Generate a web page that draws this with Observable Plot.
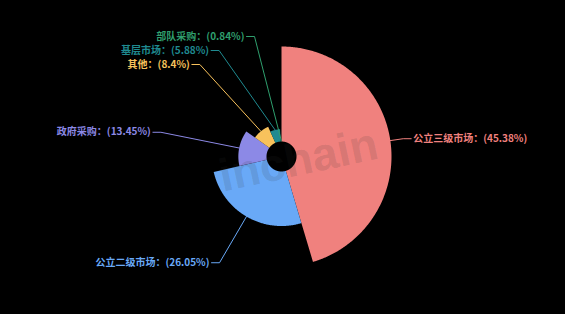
<!DOCTYPE html>
<html>
<head>
<meta charset="utf-8">
<script src="https://cdn.jsdelivr.net/npm/d3@7"></script>
<script src="https://cdn.jsdelivr.net/npm/@observablehq/plot@0.6"></script>
<style>
  html, body { margin: 0; padding: 0; background: #000; }
  #chart svg { display: block; }
</style>
</head>
<body>
<div id="chart"></div>
<script>
// Market share by channel (%)
const categories = ["公立三级市场", "公立二级市场", "政府采购", "其他", "基层市场", "部队采购"];
const shares = [45.38, 26.05, 13.45, 8.4, 5.88, 0.84];
const sliceColors = ["#f0817e", "#69a9f7", "#8c89e6", "#f8c25c", "#1f8a90", "#2f9f6e"];
const watermark = "inchain";

// Layout constants (pixels)
const W = 565, H = 314;
const cx = 281, cy = 156;          // centre of the rose
const innerR = 15, outerR = 110;   // hole and largest petal
const guideR = outerR + 13;        // where leader lines bend
const lineGap = 14;                // minimum vertical spacing of labels

// Nightingale rose: angle ∝ share, radius ∝ share
const total = d3.sum(shares);
const radius = d3.scaleLinear([0, d3.max(shares)], [innerR, outerR]);
let acc = 0;
const slices = categories.map((name, i) => {
  const a0 = (acc / total) * 2 * Math.PI;
  acc += shares[i];
  const a1 = (acc / total) * 2 * Math.PI;
  return {name, value: shares[i], a0, a1, mid: (a0 + a1) / 2, r: radius(shares[i])};
});

// Polygon outline of each petal (data units: y up, origin at centre)
const petalPoints = slices.flatMap(s => {
  const n = Math.max(4, Math.ceil((s.a1 - s.a0) / 0.01));
  const pts = [];
  for (let k = 0; k <= n; k++) {
    const a = s.a0 + (s.a1 - s.a0) * k / n;
    pts.push({name: s.name, x: s.r * Math.sin(a), y: s.r * Math.cos(a)});
  }
  for (let k = n; k >= 0; k--) {
    const a = s.a0 + (s.a1 - s.a0) * k / n;
    pts.push({name: s.name, x: innerR * Math.sin(a), y: innerR * Math.cos(a)});
  }
  return pts;
});

// Label placement: bend point on a guide circle, pushed apart vertically per side
const labels = slices.map(s => ({
  ...s,
  side: Math.sin(s.mid) >= 0 ? 1 : -1,
  dy: -guideR * Math.cos(s.mid)   // screen offset, positive downward
}));
for (const side of [1, -1]) {
  const group = labels.filter(d => d.side === side).sort((a, b) => a.dy - b.dy);
  let prev = -Infinity;
  for (const d of group) {
    d.dy = Math.max(d.dy, -guideR + 3, prev + lineGap);
    prev = d.dy;
  }
}
for (const d of labels) {
  d.bx = d.side * Math.sqrt(Math.max(guideR * guideR - d.dy * d.dy, 0));
  d.by = -d.dy;
}
const leaderPoints = labels.flatMap(d => [
  {name: d.name, x: d.r * Math.sin(d.mid), y: d.r * Math.cos(d.mid)},
  {name: d.name, x: d.bx, y: d.by},
  {name: d.name, x: d.bx + d.side * 8, y: d.by}
]);

const font = "'Noto Sans CJK SC', 'Noto Sans', sans-serif";
const labelText = d => `${d.name}：(${d.value}%)`;
const labelStyle = {
  x: d => d.bx + d.side * 10,
  y: "by",
  text: labelText,
  fill: "name",
  fontSize: 10,
  fontWeight: 600
};

const chart = Plot.plot({
  width: W,
  height: H,
  margin: 0,
  style: {background: "#000", fontFamily: font, overflow: "visible"},
  x: {domain: [-cx, W - cx], axis: null},
  y: {domain: [cy - H, cy], axis: null},
  color: {domain: categories, range: sliceColors},
  marks: [
    Plot.line(petalPoints, {
      x: "x", y: "y", z: "name", fill: "name",
      stroke: "none", curve: "linear-closed"
    }),
    Plot.line(leaderPoints, {
      x: "x", y: "y", z: "name", stroke: "name", strokeWidth: 1
    }),
    Plot.text(labels.filter(d => d.side > 0), {...labelStyle, textAnchor: "start"}),
    Plot.text(labels.filter(d => d.side < 0), {...labelStyle, textAnchor: "end"}),
    Plot.text([watermark], {
      x: 17, y: -4,
      text: d => d,
      rotate: -12,
      fontSize: 46,
      fontWeight: "bold",
      fontFamily: "'Liberation Sans', 'DejaVu Sans', sans-serif",
      fill: "#333",
      fillOpacity: 0.15
    })
  ]
});

document.getElementById("chart").append(chart);
</script>
</body>
</html>
